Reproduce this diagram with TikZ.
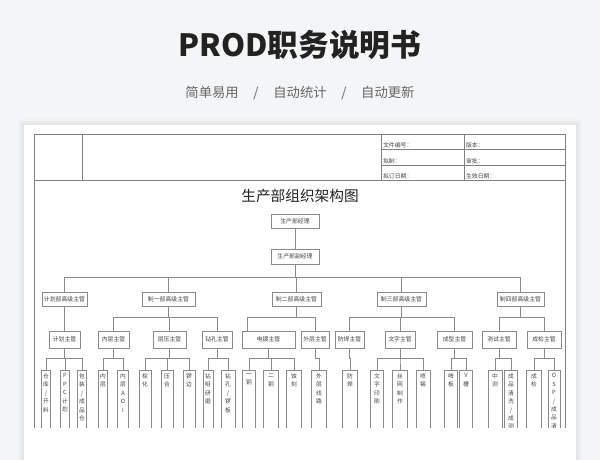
\documentclass[tikz,border=0pt]{standalone}
\usepackage{fontspec}
\setmainfont{Noto Sans CJK SC}
\usetikzlibrary{calc}
\definecolor{bgc}{HTML}{F4F5F7}
\definecolor{framec}{HTML}{808080}
\definecolor{boxc}{HTML}{8A8A8A}
\definecolor{txtc}{HTML}{444444}
\definecolor{titc}{HTML}{222222}
\definecolor{subc}{HTML}{666666}
\newcommand\vtext[1]{\parbox[c][51pt][t]{6pt}{\centering\vspace*{2.5pt}#1}}
\tikzset{
  bx/.style 2 args={draw=boxc, line width=0.5pt, minimum width={#1*0.75pt}, minimum height={#2*0.75pt}, inner sep=0pt, font=\fontsize{4.4pt}{5pt}\selectfont, text=txtc},
  leaf/.style={draw=boxc, line width=0.5pt, anchor=north, inner sep=0pt, minimum width={#1*0.75pt}, font=\fontsize{4.3pt}{6.3pt}\selectfont, text=txtc},
  conn/.style={draw=boxc, line width=0.5pt},
  frm/.style={draw=framec, line width=0.7pt},
  hdr/.style={anchor=south west, inner sep=0.6pt, font=\fontsize{4.4pt}{5pt}\selectfont, text=txtc}
}
\begin{document}
\begin{tikzpicture}[x=0.75pt,y=-0.75pt]
\useasboundingbox (0,0) rectangle (600,460);
\fill[bgc] (0,0) rectangle (600,460);
% card shadow
\foreach \d/\o in {6/0.015,4/0.02,2/0.03}{
  \fill[black,opacity=\o] (24-\d,125-\d) rectangle (576+\d,460);
}
\fill[white] (24,125) rectangle (576,460);
% titles
\node[font=\fontsize{23pt}{25pt}\selectfont\bfseries, text=titc] (title) at (300,45) {PROD职务说明书};
\node[font=\fontsize{10pt}{12pt}\selectfont, text=subc] (sub) at (300,93) {简单易用\hspace{11pt}/\hspace{11pt}自动统计\hspace{11pt}/\hspace{11pt}自动更新};

\begin{scope}
\clip (0,0) rectangle (600,427);
% frame
\draw[frm] (34,440) -- (34,134) -- (565,134) -- (565,440);
\draw[frm] (34,180) -- (565,180);
\draw[frm] (82,134) -- (82,180);
\draw[frm] (381,134) -- (381,180);
\draw[frm] (464,134) -- (464,180);
\draw[frm] (381,149) -- (565,149);
\draw[frm] (381,165) -- (565,165);
\node[hdr] (h1) at (382,149) {文件编号：};
\node[hdr] (h2) at (465,149) {版本：};
\node[hdr] (h3) at (382,165) {拟制：};
\node[hdr] (h4) at (465,165) {审批：};
\node[hdr] (h5) at (382,180) {拟订日期：};
\node[hdr] (h6) at (465,180) {生效日期：};

\node[font=\fontsize{11pt}{12pt}\selectfont, text=titc] (ct) at (300,196) {生产部组织架构图};

% level 0
\node[bx={48}{14}] (mgr) at (295,221) {生产部经理};
\node[bx={48}{15}] (vmgr) at (295,256.5) {生产部副经理};
\draw[conn] (mgr.south) -- (vmgr.north);

% level 1
\node[bx={45}{14}] (d0) at (64.5,299) {计划部高级主管};
\node[bx={53}{14}] (d1) at (168.5,299) {制一部高级主管};
\node[bx={49}{14}] (d2) at (296.5,299) {制二部高级主管};
\node[bx={49}{14}] (d3) at (401.5,299) {制三部高级主管};
\node[bx={47}{14}] (d4) at (520.5,299) {制四部高级主管};
\foreach \n in {d0,d1,d2,d3,d4}{
  \draw[conn] (vmgr.south) -- ++(0,12.5) -| (\n.north);
}

% level 2
\node[bx={31}{17}] (s0) at (64.5,339.5) {计划主管};
\node[bx={31}{17}] (s1) at (113.5,339.5) {内层主管};
\node[bx={33}{17}] (s2) at (169.5,339.5) {层压主管};
\node[bx={30}{17}] (s3) at (217,339.5) {钻孔主管};
\node[bx={53}{17}] (s4) at (268.5,339.5) {电镀主管};
\node[bx={28}{17}] (s5) at (315,339.5) {外层主管};
\node[bx={29}{17}] (s6) at (349.5,339.5) {防焊主管};
\node[bx={30}{17}] (s7) at (400,339.5) {文字主管};
\node[bx={35}{17}] (s8) at (454.5,339.5) {成型主管};
\node[bx={34}{17}] (s9) at (499,339.5) {测试主管};
\node[bx={34}{17}] (s10) at (544,339.5) {成检主管};
\draw[conn] (d0.south) -- (s0.north);
\foreach \n in {s1,s2,s3}{ \draw[conn] (d1.south) -- ++(0,11) -| (\n.north); }
\draw[conn] (d2.south) -- ++(0,11) -| ($(s4.north west)+(6,0)$);
\draw[conn] (d2.south) -- ++(0,11) -| (s5.north);
\foreach \n in {s6,s7,s8}{ \draw[conn] (d3.south) -- ++(0,11) -| (\n.north); }
\foreach \n in {s9,s10}{ \draw[conn] (d4.south) -- ++(0,11) -| (\n.north); }

% level 3 leaves
\node[leaf=9] (l1) at (46,370) {\vtext{仓\\库\\/\\开\\料}};
\node[leaf=9] (l2) at (65,370) {\vtext{P\\P\\C\\计\\划}};
\node[leaf=9] (l3) at (82,370) {\vtext{包\\装\\/\\成\\品\\仓}};
\node[leaf=9] (l4) at (103,370) {\vtext{内\\层}};
\node[leaf=11] (l5) at (123,370) {\vtext{内\\层\\A\\O\\I}};
\node[leaf=12] (l6) at (145,370) {\vtext{棕\\化}};
\node[leaf=12] (l7) at (167,370) {\vtext{压\\合}};
\node[leaf=12] (l8) at (189,370) {\vtext{锣\\边}};
\node[leaf=10] (l9) at (208,370) {\vtext{钻\\咀\\研\\磨}};
\node[leaf=14] (l10) at (228,370) {\vtext{钻\\孔\\/\\锣\\板}};
\node[leaf=13] (l11) at (249,370) {\vtext{一\\铜}};
\node[leaf=15] (l12) at (271,370) {\vtext{二\\铜}};
\node[leaf=15] (l13) at (294,370) {\vtext{蚀\\刻}};
\node[leaf=15] (l14) at (319,370) {\vtext{外\\层\\线\\路}};
\node[leaf=15] (l15) at (350,370) {\vtext{防\\焊}};
\node[leaf=13] (l16) at (377,370) {\vtext{文\\字\\印\\刷}};
\node[leaf=15] (l17) at (400,370) {\vtext{丝\\网\\制\\作}};
\node[leaf=14] (l18) at (423,370) {\vtext{喷\\锡}};
\node[leaf=13] (l19) at (451,370) {\vtext{啤\\板}};
\node[leaf=13] (l20) at (466,370) {\vtext{V\\槽}};
\node[leaf=14] (l21) at (495,370) {\vtext{中\\测}};
\node[leaf=13] (l22) at (511,370) {\vtext{成\\品\\清\\洗\\/\\成\\测}};
\node[leaf=15] (l23) at (534,370) {\vtext{成\\检}};
\node[leaf=12] (l24) at (554,370) {\vtext{O\\S\\P\\/\\成\\品\\清}};

\foreach \n in {l1,l2,l3}{ \draw[conn] (s0.south) -- ++(0,10) -| (\n.north); }
\foreach \n in {l4,l5}{ \draw[conn] (s1.south) -- ++(0,10) -| (\n.north); }
\foreach \n in {l6,l7,l8}{ \draw[conn] (s2.south) -- ++(0,10) -| (\n.north); }
\foreach \n in {l9,l10}{ \draw[conn] (s3.south) -- ++(0,10) -| (\n.north); }
\foreach \n in {l11,l12,l13}{ \draw[conn] (s4.south) -- ++(0,10) -| (\n.north); }
\draw[conn] (s5.south) -- ++(0,10) -| (l14.north);
\draw[conn] (s6.south) -- ++(0,10) -| (l15.north);
\foreach \n in {l16,l17,l18}{ \draw[conn] (s7.south) -- ++(0,10) -| (\n.north); }
\foreach \n in {l19,l20}{ \draw[conn] (s8.south) -- ++(0,10) -| (\n.north); }
\foreach \n in {l21,l22}{ \draw[conn] (s9.south) -- ++(0,10) -| (\n.north); }
\foreach \n in {l23,l24}{ \draw[conn] (s10.south) -- ++(0,10) -| (\n.north); }
\end{scope}
\end{tikzpicture}
\end{document}
